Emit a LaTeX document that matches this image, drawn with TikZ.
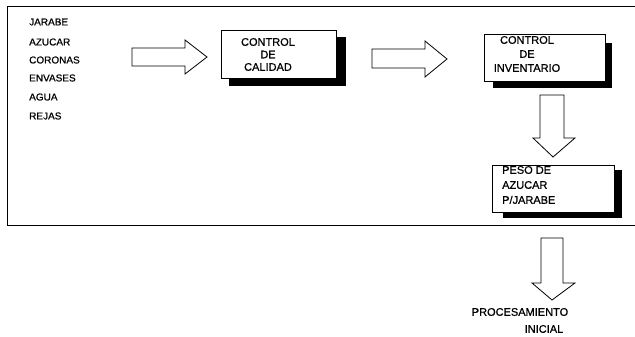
\documentclass[tikz,border=0pt]{standalone}
\usepackage{fontspec}
\setmainfont{Liberation Sans}[FakeBold=0.7]
\begin{document}
\begin{tikzpicture}[x=1pt,y=-1pt,
  listtxt/.style={anchor=west,inner sep=0pt,font=\fontsize{10}{12}\selectfont},
  boxtxt/.style={inner sep=0pt,font=\fontsize{11}{13}\selectfont},
  procbox/.style={draw,line width=0.8pt,fill=white,rectangle,inner sep=0pt},
  shadowbox/.style={fill=black,draw=none},
  blockarrow/.style={draw,line width=0.8pt,fill=white,line join=miter}]
\useasboundingbox (0,0) rectangle (635,337);
% frame
\draw[line width=0.8pt] (635,6) -- (7,6) -- (7,225) -- (635,225);
% input list
\node[listtxt] (l1) at (29,22) {JARABE};
\node[listtxt] (l2) at (29,42) {AZUCAR};
\node[listtxt] (l3) at (29,60) {CORONAS};
\node[listtxt] (l4) at (29,78) {ENVASES};
\node[listtxt] (l5) at (29,97) {AGUA};
\node[listtxt] (l6) at (29,116) {REJAS};
% box 1
\fill[shadowbox] (229,37) rectangle (346,86);
\node[procbox,minimum width=115pt,minimum height=48pt] (b1) at (278.5,54) {};
\node[boxtxt,align=center,font=\fontsize{11}{12.5}\selectfont] (t1) at (268,54.5) {CONTROL\\DE\\CALIDAD};
% box 2
\fill[shadowbox] (493,43) rectangle (612,88);
\node[procbox,minimum width=121pt,minimum height=47pt] (b2) at (544.5,57.5) {};
\node[boxtxt,align=center,font=\fontsize{11}{14}\selectfont] (t2) at (527,54) {CONTROL\\DE\\INVENTARIO};
% box 3
\fill[shadowbox] (503,170) rectangle (622,218);
\node[procbox,minimum width=122pt,minimum height=47pt] (b3) at (553,188.5) {};
\node[boxtxt,align=left,anchor=west,font=\fontsize{11}{15}\selectfont] (t3) at (502,185) {PESO DE\\AZUCAR\\P/JARABE};
% block arrows
\draw[blockarrow] (132,48) -- (185,48) -- (185,40) -- (207,57) -- (185,74) -- (185,66) -- (132,66) -- cycle;
\draw[blockarrow] (372,49) -- (425,49) -- (425,41) -- (447,59) -- (425,77) -- (425,68) -- (372,68) -- cycle;
\draw[blockarrow] (540,95) -- (540,138) -- (533,138) -- (553,157) -- (575,138) -- (564,138) -- (564,95) -- cycle;
\draw[blockarrow] (541,238) -- (541,283) -- (532,283) -- (552,300) -- (575,283) -- (563,283) -- (563,238) -- cycle;
% output
\node[boxtxt] (p1) at (520,312) {PROCESAMIENTO};
\node[boxtxt] (p2) at (544,329) {INICIAL};
\end{tikzpicture}
\end{document}
